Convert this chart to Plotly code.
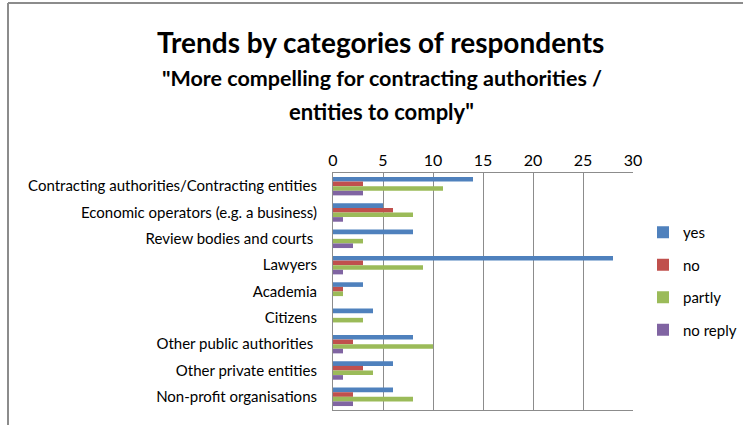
import plotly.graph_objects as go

categories = [
    "Contracting authorities/Contracting entities",
    "Economic operators (e.g. a business)",
    "Review bodies and courts ",
    "Lawyers",
    "Academia",
    "Citizens",
    "Other public authorities ",
    "Other private entities",
    "Non-profit organisations",
]
yes = [14, 5, 8, 28, 3, 4, 8, 6, 6]
no = [3, 6, 0, 3, 1, 0, 2, 3, 2]
partly = [11, 8, 3, 9, 1, 3, 10, 4, 8]
no_reply = [3, 1, 2, 1, 0, 0, 1, 1, 2]

series = [
    ("yes", yes, "#4f81bd"),
    ("no", no, "#c0504d"),
    ("partly", partly, "#9bbb59"),
    ("no reply", no_reply, "#8064a2"),
]

W, H = 743, 425
L, R, T, B = 333, 633, 173, 410

fig = go.Figure()
for name, vals, color in series:
    fig.add_trace(go.Bar(
        y=categories, x=vals, name=name, orientation="h", legendgroup=name,
        marker=dict(color=color, line=dict(width=0)),
    ))

font = "Lato, Open Sans, sans-serif"

def px_x(p):
    return (p - L) / (R - L)

def px_y(p):
    return (B - p) / (B - T)

fig.add_annotation(text="<b>Trends by categories of respondents</b>",
                   xref="paper", yref="paper", x=px_x(380), y=px_y(42),
                   xanchor="center", yanchor="middle",
                   showarrow=False, font=dict(size=28, color="black", family=font))
fig.add_annotation(text="<b>\"More compelling for contracting authorities /</b>",
                   xref="paper", yref="paper", x=px_x(382), y=px_y(78),
                   xanchor="center", yanchor="middle",
                   showarrow=False, font=dict(size=21.5, color="black", family=font))
fig.add_annotation(text="<b>entities to comply\"</b>",
                   xref="paper", yref="paper", x=px_x(381), y=px_y(111),
                   xanchor="center", yanchor="middle",
                   showarrow=False, font=dict(size=22, color="black", family=font))

# outer chart frame
fig.add_shape(type="line", xref="paper", yref="paper",
              x0=px_x(8), x1=px_x(743), y0=px_y(3), y1=px_y(3),
              line=dict(color="#8c8c8c", width=2))
fig.add_shape(type="line", xref="paper", yref="paper",
              x0=px_x(8), x1=px_x(8), y0=px_y(3), y1=px_y(425),
              line=dict(color="#8c8c8c", width=2))

fig.update_layout(
    width=W, height=H,
    margin=dict(l=L, r=W - R, t=T, b=H - B, autoexpand=False),
    paper_bgcolor="white", plot_bgcolor="white",
    barmode="group", bargap=0.3, bargroupgap=0,
    font=dict(family=font, size=15, color="black"),
    xaxis=dict(side="top", range=[0, 30], dtick=5, showgrid=True,
               gridcolor="#8c8c8c", gridwidth=1, showline=True,
               linecolor="#8c8c8c", mirror=True, zeroline=False,
               tickfont=dict(size=16), ticks=""),
    yaxis=dict(autorange="reversed", showgrid=False, showline=True,
               linecolor="#8c8c8c", ticks="", ticklabelstandoff=12,
               tickfont=dict(size=15)),
    legend=dict(x=px_x(643), y=px_y(216), xanchor="left", yanchor="top",
                font=dict(size=15), itemsizing="constant", itemwidth=30,
                tracegroupgap=10, traceorder="grouped"),
    showlegend=True,
)

fig.write_html("out.html", config={"displayModeBar": False},
               post_script="document.body.style.margin='0';")
